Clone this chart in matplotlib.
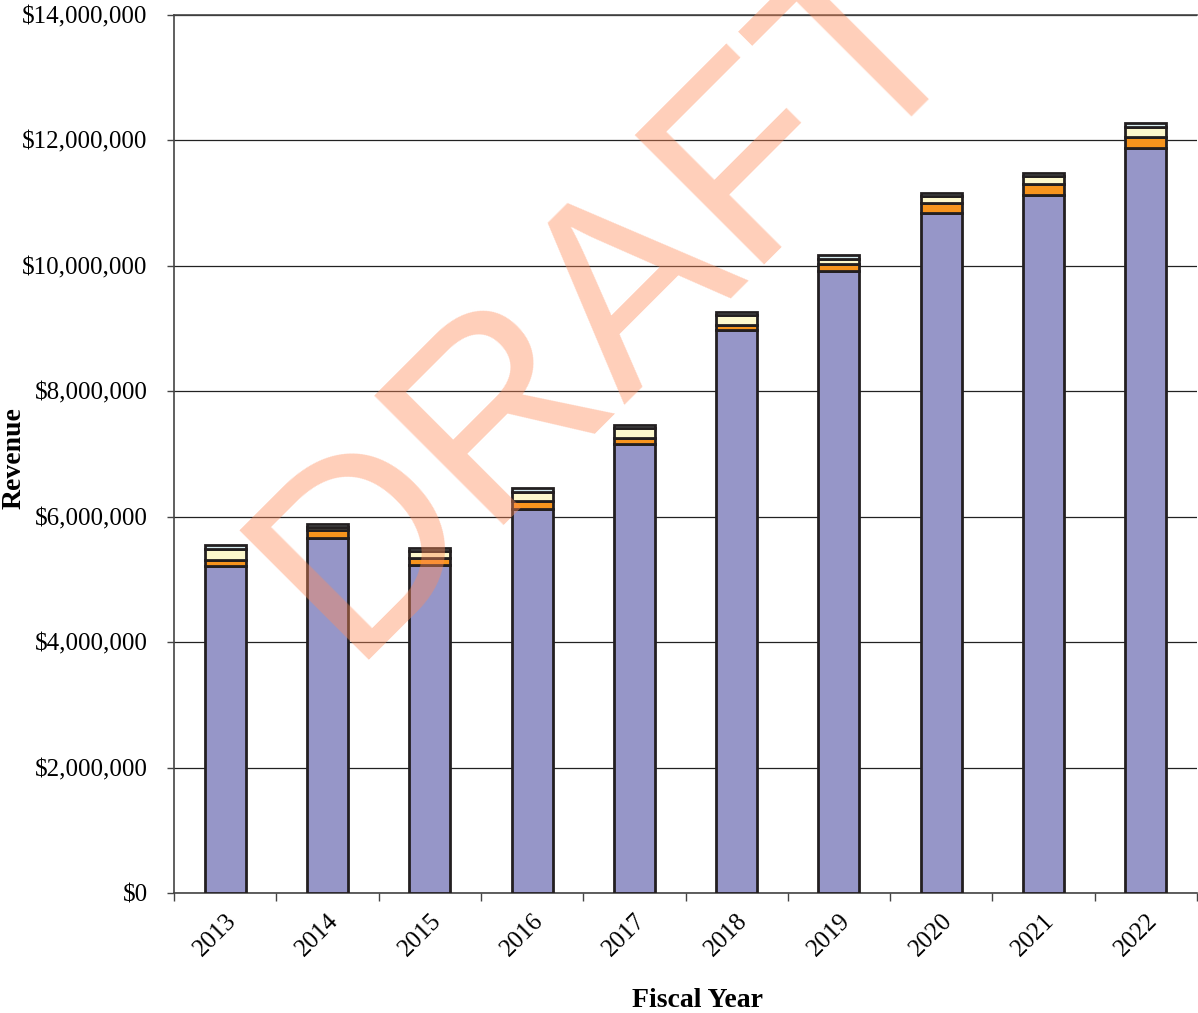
import matplotlib.pyplot as plt
import matplotlib as mpl
import numpy as np
from matplotlib.ticker import FuncFormatter, MultipleLocator, FixedLocator

mpl.rcParams.update({
    "font.family": "Liberation Serif",
    "font.size": 18,
})

years = ["2013", "2014", "2015", "2016", "2017", "2018", "2019", "2020", "2021", "2022"]
# revenue by source, in dollars
base = [5214000, 5661000, 5238000, 6128000, 7152000, 8970000, 9914000, 10848000, 11126000, 11880000]
second = [96000, 120000, 104000, 123000, 96000, 88000, 116000, 159000, 175000, 180000]
third = [183000, 48000, 112000, 151000, 159000, 151000, 80000, 99000, 128000, 155000]
fourth = [56000, 48000, 40000, 56000, 48000, 48000, 56000, 56000, 53000, 56000]

series = [base, second, third, fourth]
fills = ["#9696C8", "#F7941D", "#FDF8CC", "#D6ECEF"]

fig = plt.figure(figsize=(11.98, 10.13), dpi=100)
ax = fig.add_axes([174 / 1198, 1 - 893 / 1013, 1023 / 1198, 878 / 1013])

x = np.arange(len(years))
bottom = np.zeros(len(years))
for vals, c in zip(series, fills):
    vals = np.array(vals, dtype=float)
    ax.bar(x, vals, width=0.4, bottom=bottom, color=c, edgecolor="#231F20",
           linewidth=2.0, zorder=3)
    bottom += vals

ax.set_xlim(-0.5, len(years) - 0.5)
ax.set_ylim(0, 14000000)
ax.yaxis.set_major_locator(MultipleLocator(2000000))
ax.yaxis.set_major_formatter(FuncFormatter(lambda v, p: f"${v:,.0f}"))
ax.grid(axis="y", color="#222222", lw=0.9, zorder=1)

ax.set_xticks(x)
ax.set_xticklabels(years, rotation=45, ha="right", rotation_mode="anchor")
ax.xaxis.set_minor_locator(FixedLocator(np.arange(-0.5, len(years), 1.0)))
ax.tick_params(axis="x", which="major", length=0, pad=12)
ax.tick_params(axis="x", which="minor", length=6, width=1, color="#444444")
ax.tick_params(axis="y", length=5, width=1, color="#444444", pad=14)

for side in ["left", "bottom", "top"]:
    ax.spines[side].set_color("#444444")
    ax.spines[side].set_linewidth(1.2)
ax.spines["right"].set_visible(False)

ax.set_ylabel("Revenue", fontweight="bold", fontsize=20)
ax.yaxis.set_label_coords(-0.1437, 0.495)
ax.set_xlabel("Fiscal Year", fontweight="bold", fontsize=20)
ax.xaxis.set_label_coords(0.512, -0.108)

fig.text(0.510, 0.705, "DRAFT", family="Liberation Sans", fontsize=191,
         color="#FF8C5A", alpha=0.42, rotation=45, ha="center", va="center",
         zorder=10)

fig.savefig("out.png", dpi=100)
